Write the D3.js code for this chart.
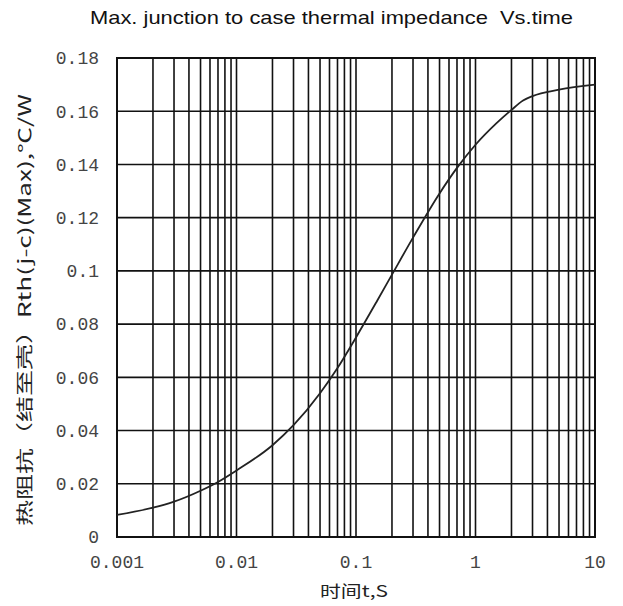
<!DOCTYPE html>
<html><head><meta charset="utf-8">
<script src="https://cdn.jsdelivr.net/npm/d3@7"></script>
<style>body{margin:0;background:#fff}svg{display:block}</style>
</head><body>
<svg id="c" width="623" height="606"></svg>
<script>
const titleText = "Max. junction to case thermal impedance  Vs.time";
const xTitle = "时间t,S";
const yTitle = "热阻抗（结至壳）Rth(j-c)(Max),℃/W";
const timeS = [0.001,0.002,0.003,0.005,0.007,0.01,0.02,0.03,0.05,0.07,0.1,0.15,0.2,0.3,0.5,0.7,1,1.5,2,2.5,3,5,10];
const zth   = [0.0083,0.0110,0.0133,0.0174,0.0207,0.0250,0.0345,0.0420,0.0540,0.0635,0.0750,0.0887,0.0986,0.1125,0.1291,0.1387,0.1474,0.1555,0.1605,0.1640,0.1657,0.1681,0.170];
const xTicks = [0.001,0.01,0.1,1,10];
const xTickLabels = ["0.001","0.01","0.1","1","10"];
const yTicks = [0,0.02,0.04,0.06,0.08,0.1,0.12,0.14,0.16,0.18];
const yTickLabels = ["0","0.02","0.04","0.06","0.08","0.1","0.12","0.14","0.16","0.18"];

const svg = d3.select("#c");
const L=117,R=595,T=58,B=537;
const x = d3.scaleLog().domain([0.001,10]).range([L,R]);
const y = d3.scaleLinear().domain([0,0.18]).range([B,T]);

const vgrid = [];
for (let e=-3;e<1;e++) for (let m=1;m<10;m++) vgrid.push(m*Math.pow(10,e));
vgrid.push(10);
svg.append("g").selectAll("line").data(vgrid).join("line")
  .attr("x1",d=>x(d)).attr("x2",d=>x(d)).attr("y1",T).attr("y2",B)
  .attr("stroke","#111").attr("stroke-width",1.6);
svg.append("g").selectAll("line").data(yTicks).join("line")
  .attr("x1",L).attr("x2",R).attr("y1",d=>y(d)).attr("y2",d=>y(d))
  .attr("stroke","#111").attr("stroke-width",1.6);
svg.append("rect").attr("x",L).attr("y",T).attr("width",R-L).attr("height",B-T)
  .attr("fill","none").attr("stroke","#111").attr("stroke-width",2);

const line = d3.line().x((d,i)=>x(timeS[i])).y(d=>y(d)).curve(d3.curveMonotoneX);
svg.append("path").attr("d",line(zth)).attr("fill","none").attr("stroke","#222").attr("stroke-width",1.8);

const mono = "'Liberation Mono', 'DejaVu Sans Mono', monospace";
svg.append("g").selectAll("text").data(yTicks).join("text")
  .attr("x",99).attr("y",d=>y(d)).attr("dy","0.35em").attr("text-anchor","end")
  .attr("font-family",mono).attr("font-size",18).attr("fill","#444")
  .text((d,i)=>yTickLabels[i]);
svg.append("g").selectAll("text").data(xTicks).join("text")
  .attr("x",d=>x(d)).attr("y",568).attr("text-anchor","middle")
  .attr("font-family",mono).attr("font-size",18).attr("fill","#444")
  .text((d,i)=>xTickLabels[i]);

svg.append("text").attr("x",90).attr("y",24)
  .attr("font-family","'Liberation Sans', Arial, sans-serif").attr("font-size",19).attr("fill","#111")
  .attr("textLength",483).attr("lengthAdjust","spacingAndGlyphs")
  .style("white-space","pre").text(titleText);
svg.append("text").attr("x",320).attr("y",597)
  .attr("font-family","'Noto Sans CJK SC', 'Liberation Serif', serif").attr("font-size",16).attr("fill","#222")
  .attr("textLength",68).attr("lengthAdjust","spacingAndGlyphs")
  .text(xTitle);
svg.append("text").attr("transform","translate(31,526) rotate(-90)")
  .attr("font-family","'Noto Sans CJK SC', 'Liberation Serif', serif").attr("font-size",17).attr("fill","#222")
  .attr("textLength",432).attr("lengthAdjust","spacingAndGlyphs")
  .text(yTitle);
</script>
</body></html>
